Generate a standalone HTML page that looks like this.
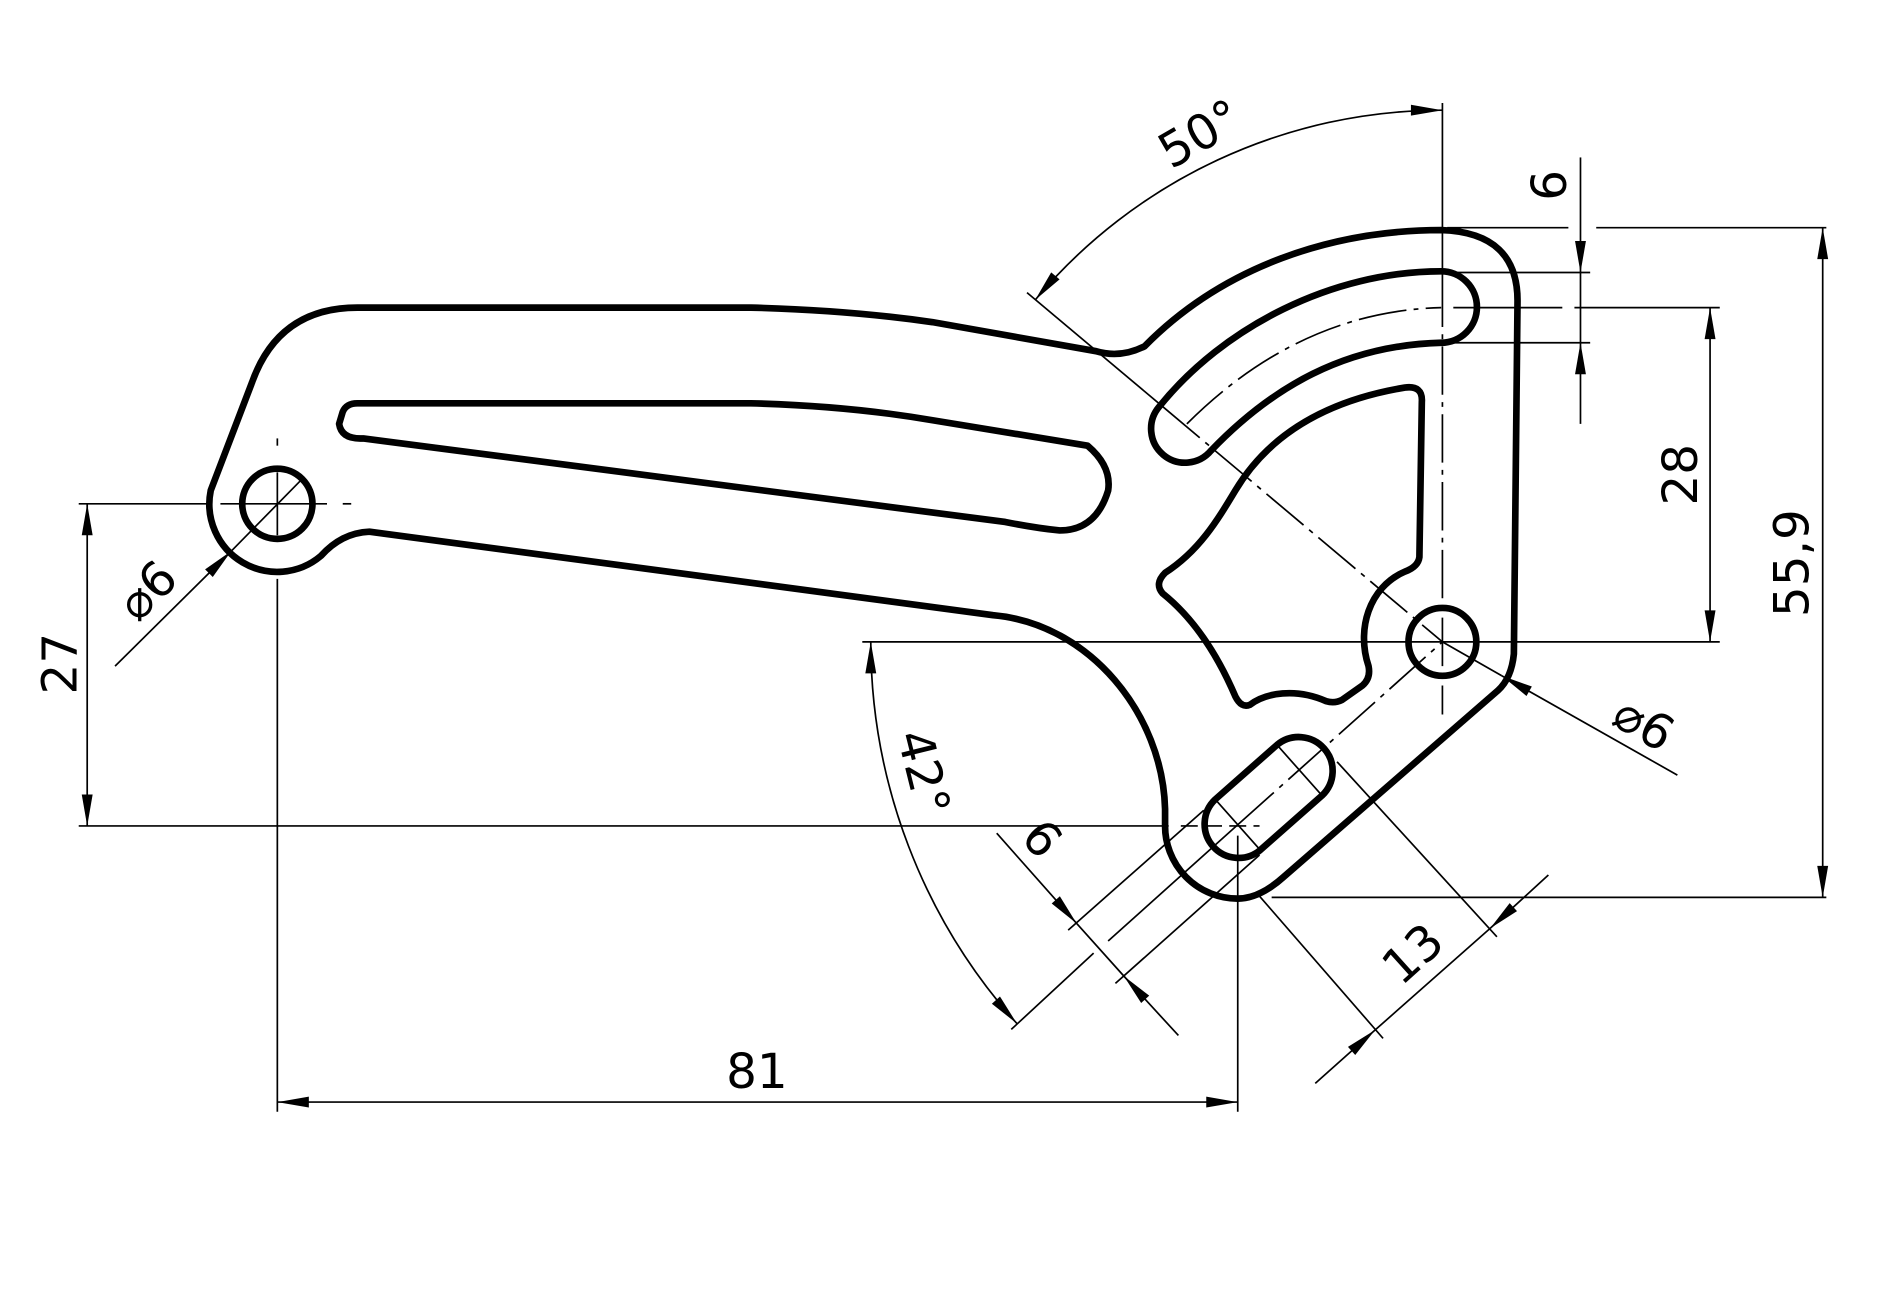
<!DOCTYPE html>
<html><head><meta charset="utf-8"><style>
html,body{margin:0;padding:0;background:#fff;}
svg{display:block;}
text{font-family:"DejaVu Sans","Liberation Sans",sans-serif;font-size:40px;fill:#000;}
</style></head><body>
<svg width="1899" height="1299" viewBox="0 0 1568 1072.6" preserveAspectRatio="none" xmlns="http://www.w3.org/2000/svg">
<defs>
<marker id="a" markerUnits="userSpaceOnUse" viewBox="-1 -6 28 12" refX="26" refY="0" markerWidth="28" markerHeight="12" orient="auto-start-reverse">
<path d="M0,-4.5 L26,0 L0,4.5 Z" fill="#000"/>
</marker>
</defs>
<g fill="none" stroke="#000" stroke-width="5.5" stroke-linejoin="round">
<path d="M295,254 L620,254 Q700,256 770,266 L905,290 Q925,296 945,286 C1010,220 1100,190 1190,190 Q1254,192 1253,250 L1250,540 Q1248,560 1237,570 L1060,724 Q1040,742 1022,742 A60,60 0 0 1 962,681 L962,668 C960,590 900,515 820,508 L305,439 Q282,440 265,459 A56,56 0 0 1 174,405 L208,316 Q230,254 295,254 Z"/>
<path d="M295,333 L620,333 Q700,335 770,347 L898,368 Q918,385 915,405 Q905,438 875,438 Q855,436 830,431 L300,362 Q282,363 280,350 L283,340 Q286,333 295,333 Z"/>
<path d="M1190,224 A29,29 0 0 1 1190,283 C1110,285 1050,320 1000,372 A28,28 0 0 1 957,336 C1010,270 1100,224 1190,224 Z"/>
<path d="M1160,320 Q1175,318 1174,332 L1172,460 Q1171,468 1160,472 C1130,485 1120,520 1130,550 Q1132,560 1125,566 L1108,578 Q1102,581 1095,579 C1070,568 1045,572 1032,582 Q1025,585 1020,575 C1005,540 985,510 960,490 Q953,482 962,473 C990,455 1005,430 1020,405 C1050,355 1100,330 1160,320 Z"/>
<circle cx="229" cy="416" r="29"/>
<circle cx="1191" cy="530" r="28"/>
<path d="M1003.5,660 L1054.5,615 A28,28 0 0 1 1091.5,657 L1040.5,702 A28,28 0 0 1 1003.5,660 Z"/>
</g>
<g fill="none" stroke="#000" stroke-width="1.4">
<line x1="1191" y1="85" x2="1191" y2="230"/>
<line x1="1191" y1="230" x2="1191" y2="590" stroke-dasharray="40,6,4,6"/>
<line x1="712" y1="530" x2="1420" y2="530"/>
<line x1="229" y1="362" x2="229" y2="368"/>
<line x1="229" y1="390" x2="229" y2="442"/>
<line x1="229" y1="478" x2="229" y2="918"/>
<line x1="65" y1="416" x2="172" y2="416"/>
<line x1="182" y1="416" x2="270" y2="416"/>
<line x1="283" y1="416" x2="290" y2="416"/>
<line x1="65" y1="682" x2="965" y2="682"/>
<line x1="975" y1="682" x2="1040" y2="682" stroke-dasharray="14,6"/>
<line x1="1022" y1="690" x2="1022" y2="918"/>
<path d="M980,350 C1040,290 1110,256 1190,254" stroke-dasharray="40,6,4,6"/>
<line x1="848" y1="241.6" x2="960" y2="335.7"/>
<line x1="960" y1="335.7" x2="1191" y2="530" stroke-dasharray="40,6,4,6"/>
<path d="M854.7,247.7 A439,439 0 0 1 1191,91" marker-start="url(#a)" marker-end="url(#a)"/>
<path d="M719,530 A472,472 0 0 0 839.7,845.2" marker-start="url(#a)" marker-end="url(#a)"/>
<line x1="835" y1="850" x2="903" y2="787"/>
<line x1="915" y1="777" x2="1022" y2="681"/>
<line x1="1022" y1="681" x2="1191" y2="530" stroke-dasharray="40,6,4,6"/>
<line x1="1002" y1="658.5" x2="1042" y2="703.5"/>
<line x1="1053" y1="613.5" x2="1093" y2="658.5"/>
<line x1="882" y1="768" x2="994" y2="669"/>
<line x1="921" y1="812" x2="1040" y2="706"/>
<line x1="823" y1="688" x2="889" y2="762.5" marker-end="url(#a)"/>
<line x1="973" y1="855" x2="928" y2="806" marker-end="url(#a)"/>
<line x1="889" y1="762.5" x2="928" y2="806"/>
<line x1="1104" y1="629" x2="1236" y2="773.5"/>
<line x1="1038" y1="737.7" x2="1142" y2="857.4"/>
<line x1="1086" y1="894.6" x2="1135.4" y2="850.5" marker-end="url(#a)"/>
<line x1="1278.5" y1="722.5" x2="1230.4" y2="766.6" marker-end="url(#a)"/>
<line x1="1135.4" y1="850.5" x2="1230.4" y2="766.6"/>
<line x1="1195" y1="188" x2="1295" y2="188"/>
<line x1="1318" y1="188" x2="1508" y2="188"/>
<line x1="1195" y1="225" x2="1313" y2="225"/>
<line x1="1200" y1="254" x2="1290" y2="254"/>
<line x1="1300" y1="254" x2="1420" y2="254"/>
<line x1="1195" y1="283" x2="1313" y2="283"/>
<line x1="1050" y1="741" x2="1508" y2="741"/>
<line x1="1305" y1="130" x2="1305" y2="225" marker-end="url(#a)"/>
<line x1="1305" y1="350" x2="1305" y2="283" marker-end="url(#a)"/>
<line x1="1305" y1="225" x2="1305" y2="283"/>
<line x1="1412" y1="254" x2="1412" y2="530" marker-start="url(#a)" marker-end="url(#a)"/>
<line x1="1505" y1="188" x2="1505" y2="741" marker-start="url(#a)" marker-end="url(#a)"/>
<line x1="72" y1="416" x2="72" y2="682" marker-start="url(#a)" marker-end="url(#a)"/>
<line x1="229" y1="910" x2="1022" y2="910" marker-start="url(#a)" marker-end="url(#a)"/>
<line x1="95" y1="550" x2="191" y2="455" marker-end="url(#a)"/>
<line x1="191" y1="455" x2="248" y2="397"/>
<line x1="1385" y1="640" x2="1240" y2="558" marker-end="url(#a)"/>
<line x1="1240" y1="558" x2="1191" y2="530"/>
</g>
<g text-anchor="middle" dominant-baseline="central">
<text transform="translate(991,111) rotate(-30)">50°</text>
<text transform="translate(1280,153) rotate(-90)">6</text>
<text transform="translate(1388,392) rotate(-90)">28</text>
<text transform="translate(1480,465) rotate(-90)">55,9</text>
<text transform="translate(50,548) rotate(-90)">27</text>
<text x="625" y="885">81</text>
<text transform="translate(122,488) rotate(-45)">⌀6</text>
<text transform="translate(1357,598) rotate(30)">⌀6</text>
<text transform="translate(762,638) rotate(76)">42°</text>
<text transform="translate(860,693) rotate(48.6)">6</text>
<text transform="translate(1167,788) rotate(-42)">13</text>
</g>
</svg>
</body></html>
